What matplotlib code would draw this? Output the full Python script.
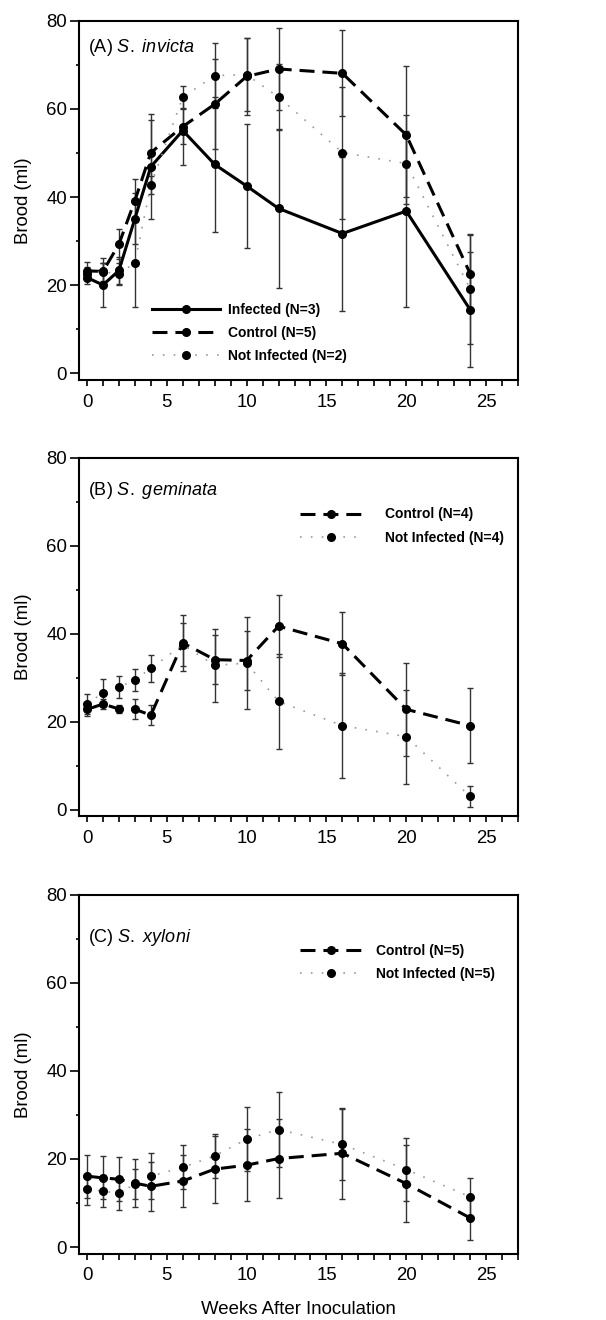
import matplotlib
matplotlib.use('Agg')
import matplotlib.pyplot as plt
from matplotlib.ticker import MultipleLocator

plt.rcParams['font.family'] = ['Liberation Sans', 'DejaVu Sans']
plt.rcParams['mathtext.fontset'] = 'custom'
plt.rcParams['mathtext.rm'] = 'Liberation Sans'
plt.rcParams['mathtext.it'] = 'Liberation Sans:italic'

weeks = [0, 1, 2, 3, 4, 6, 8, 10, 12, 16, 20, 24]

# (A) S. invicta
a_inf = [21.7, 20.0, 23.3, 35.1, 46.9, 55.1, 47.4, 42.5, 37.4, 31.7, 36.8, 14.4]
a_inf_err = [1.5, 5.0, 3.0, 5.7, 12.0, 7.8, 15.4, 14.1, 18.1, 17.5, 21.9, 13.0]
a_ctl = [23.2, 23.1, 29.3, 39.2, 50.1, 56.0, 61.1, 67.4, 69.1, 68.1, 54.1, 22.6]
a_ctl_err = [2.0, 3.0, 3.5, 4.9, 7.3, 4.0, 10.2, 8.7, 9.4, 9.8, 15.6, 8.7]
a_ni = [22.6, 23.0, 22.5, 25.1, 42.7, 62.7, 67.6, 67.8, 62.7, 50.1, 47.6, 19.1]
a_ni_err = [1.5, 2.0, 2.5, 10.0, 2.0, 2.5, 7.4, 8.3, 7.5, 15.0, 7.5, 12.5]

# (B) S. geminata
b_ctl = [22.8, 24.0, 22.9, 22.8, 21.5, 37.9, 34.1, 33.9, 41.7, 37.7, 22.8, 19.1]
b_ctl_err = [1.5, 1.2, 1.0, 2.3, 2.3, 6.4, 5.5, 6.6, 7.0, 7.2, 10.5, 8.5]
b_ni = [24.0, 26.6, 27.8, 29.5, 32.1, 37.5, 32.8, 33.3, 24.6, 19.1, 16.6, 3.0]
b_ni_err = [2.2, 3.0, 2.5, 2.5, 3.0, 4.9, 8.3, 10.4, 10.7, 12.0, 10.7, 2.4]

# (C) S. xyloni
c_ctl = [16.1, 15.7, 15.4, 14.5, 13.8, 15.0, 17.7, 18.6, 20.1, 21.3, 14.4, 6.6]
c_ctl_err = [4.9, 4.9, 5.0, 5.4, 5.6, 5.8, 7.6, 8.2, 9.0, 10.3, 8.7, 4.9]
c_ni = [13.1, 12.7, 12.2, 14.3, 16.1, 18.1, 20.7, 24.5, 26.7, 23.3, 17.6, 11.4]
c_ni_err = [3.5, 3.7, 3.8, 3.5, 5.3, 5.0, 5.0, 7.3, 8.6, 8.0, 7.2, 4.3]

STYLE = {
    'inf': dict(color='black', ls='-', lw=2.2),
    'ctl': dict(color='black', ls=(0, (4.9, 2.6)), lw=2.2),
    'ni':  dict(color='#9a9a9a', ls=(0, (1, 5.5)), lw=1.2),
}

# tag, species, label y, series, legend anchor, handle length, text pad
panels = [
    ('(A) ', 'S.\\ invicta', 0.955,
     [('inf', a_inf, a_inf_err, 'Infected (N=3)'),
      ('ctl', a_ctl, a_ctl_err, 'Control (N=5)'),
      ('ni', a_ni, a_ni_err, 'Not Infected (N=2)')],
     (0.166, 0.213), 4.9, 0.55),
    ('(B) ', 'S.\\ geminata', 0.938,
     [('ctl', b_ctl, b_ctl_err, 'Control (N=4)'),
      ('ni', b_ni, b_ni_err, 'Not Infected (N=4)')],
     (0.503, 0.861), 4.5, 1.6),
    ('(C) ', 'S.\\ xyloni', 0.912,
     [('ctl', c_ctl, c_ctl_err, 'Control (N=5)'),
      ('ni', c_ni, c_ni_err, 'Not Infected (N=5)')],
     (0.503, 0.864), 4.5, 1.0),
]

bottoms = [0.7124, 0.3816, 0.0503]

fig = plt.figure(figsize=(6.06, 13.2), dpi=100)

for (tag, sp, ty, series, leg_xy, hlen, tpad), b in zip(panels, bottoms):
    ax = fig.add_axes([0.1304, b, 0.7244, 0.2717])

    for key, vals, errs, label in series:
        ax.errorbar(weeks, vals, yerr=errs, fmt='none', ecolor='#333333',
                    elinewidth=1.0, capsize=2.5, capthick=1.0, zorder=2)
        ax.plot(weeks, vals, marker='o', ms=5.5, mfc='black', mec='black',
                label=label, zorder=3, **STYLE[key])

    ax.set_xlim(-0.5, 27)
    ax.set_ylim(-1.5, 80)
    ax.xaxis.set_major_locator(MultipleLocator(5))
    ax.xaxis.set_minor_locator(MultipleLocator(1))
    ax.yaxis.set_major_locator(MultipleLocator(20))
    ax.yaxis.set_minor_locator(MultipleLocator(10))
    ax.tick_params(axis='both', which='both', direction='out', labelsize=13.4,
                   width=1.2, colors='black')
    ax.tick_params(axis='x', which='both', length=4, pad=6)
    ax.tick_params(axis='y', which='major', length=6.5, pad=2)
    ax.tick_params(axis='y', which='minor', length=2.5)
    for s in ax.spines.values():
        s.set_linewidth(1.5)

    ax.set_ylabel('Brood (ml)', fontsize=13.4)
    ax.yaxis.set_label_coords(-0.106, 0.5)

    ax.text(0.02, ty, tag + r'$\mathit{' + sp + '}$', transform=ax.transAxes,
            ha='left', va='top', fontsize=13)

    ax.legend(loc='upper left', bbox_to_anchor=leg_xy, frameon=False,
              prop=dict(weight='bold', size=10),
              handlelength=hlen, handletextpad=tpad, labelspacing=0.65,
              borderpad=0, borderaxespad=0, numpoints=1)

ax.set_xlabel('Weeks After Inoculation', fontsize=13.4, labelpad=12)

fig.savefig('out.png', dpi=100)
